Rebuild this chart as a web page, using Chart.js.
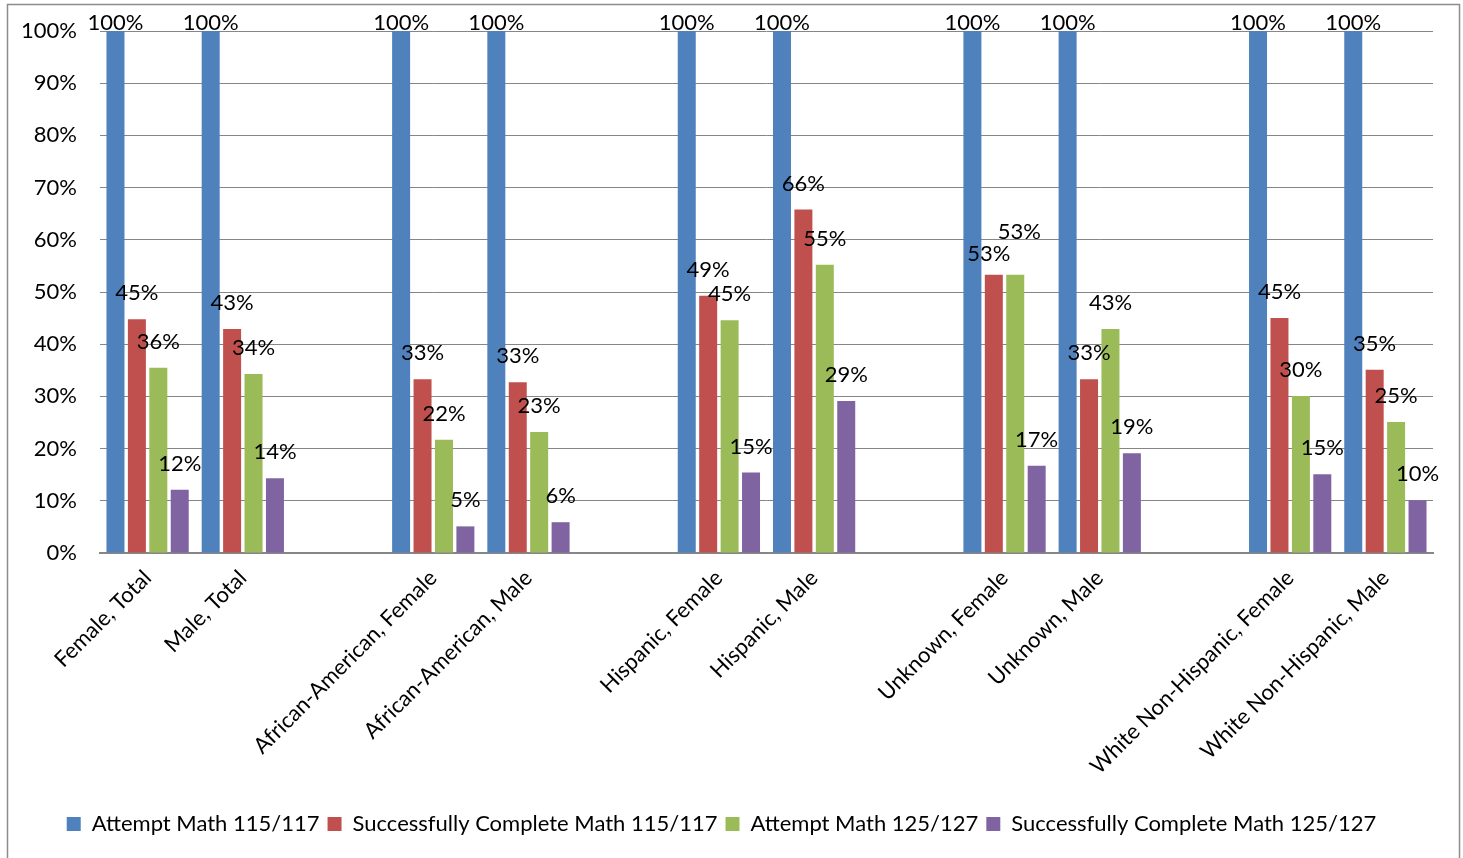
<!DOCTYPE html>
<html>
<head>
<meta charset="utf-8">
<script src="https://cdn.jsdelivr.net/npm/chart.js@4"></script>
<style>
  html, body { margin: 0; padding: 0; background: #fff; }
  #wrap { width: 1463px; height: 858px; position: relative; }
</style>
</head>
<body>
<div id="wrap"><canvas id="chart"></canvas></div>
<script>
// categories (empty strings are the spacer slots between groups)
const categories = [
  'Female, Total', 'Male, Total', '',
  'African-American, Female', 'African-American, Male', '',
  'Hispanic, Female', 'Hispanic, Male', '',
  'Unknown, Female', 'Unknown, Male', '',
  'White Non-Hispanic, Female', 'White Non-Hispanic, Male'
];

const seriesNames = [
  'Attempt Math 115/117',
  'Successfully Complete Math 115/117',
  'Attempt Math 125/127',
  'Successfully Complete Math 125/127'
];

// values in percent
const attempt115 =  [100, 100, null, 100, 100, null, 100, 100, null, 100, 100, null, 100, 100];
const complete115 = [44.8, 42.9, null, 33.3, 32.7, null, 49.3, 65.8, null, 53.3, 33.3, null, 45.0, 35.1];
const attempt125 =  [35.5, 34.3, null, 21.7, 23.2, null, 44.6, 55.2, null, 53.3, 42.9, null, 30.1, 25.1];
const complete125 = [12.1, 14.3, null, 5.1, 5.9, null, 15.4, 29.1, null, 16.7, 19.1, null, 15.1, 10.1];

const yTicks = [0, 10, 20, 30, 40, 50, 60, 70, 80, 90, 100];

const colors = ['#4F81BD', '#C0504D', '#9BBB59', '#8064A2'];
const FONT = 'Lato';
const FSIZE = 22;

// white background + grey frame like the Excel chart
const framePlugin = {
  id: 'frame',
  beforeDraw(chart) {
    const c = chart.ctx;
    c.save();
    c.fillStyle = '#fff';
    c.fillRect(0, 0, chart.width, chart.height);
    c.strokeStyle = '#8c8c8c';
    c.lineWidth = 1.5;
    c.strokeRect(7.5, 4.5, 1452, 880);
    c.restore();
  }
};

// percent labels above each bar, nudged apart when two collide
const labelPlugin = {
  id: 'barLabels',
  afterDatasetsDraw(chart) {
    const c = chart.ctx;
    c.save();
    c.font = FSIZE + 'px ' + FONT;
    c.fillStyle = '#000';
    c.textAlign = 'center';
    c.textBaseline = 'middle';
    const nData = chart.data.labels.length;
    for (let j = 0; j < nData; j++) {
      const pts = [];
      chart.data.datasets.forEach((ds, i) => {
        const v = ds.data[j];
        if (v === null || v === undefined) return;
        const bar = chart.getDatasetMeta(i).data[j];
        pts.push({
          text: Math.round(v) + '%',
          x: bar.x,
          y: Math.max(bar.y - 26, chart.chartArea.top - 8)
        });
      });
      for (let k = 1; k < pts.length; k++) {
        const a = pts[k - 1], b = pts[k];
        if (Math.abs(a.y - b.y) < 18 && a.y > chart.chartArea.top) {
          a.x -= 5; a.y += 5;
          b.x += 4; b.y -= 17;
        }
      }
      pts.forEach(p => c.fillText(p.text, p.x, p.y));
    }
    c.restore();
  }
};

const allSeries = [attempt115, complete115, attempt125, complete125];

new Chart(document.getElementById('chart'), {
  type: 'bar',
  data: {
    labels: categories,
    datasets: allSeries.map((d, i) => ({
      label: seriesNames[i],
      data: d,
      backgroundColor: colors[i],
      borderWidth: 0,
      categoryPercentage: 0.9,
      barPercentage: 0.84
    }))
  },
  options: {
    responsive: true,
    maintainAspectRatio: false,
    animation: false,
    layout: { padding: { left: 10, top: 31, right: 30, bottom: 13 } },
    scales: {
      x: {
        grid: { display: false },
        border: { display: true, color: '#868686', width: 2 },
        ticks: {
          color: '#000',
          font: { family: FONT, size: FSIZE },
          minRotation: 45,
          maxRotation: 45,
          autoSkip: false,
          padding: 4
        },
        afterFit(scale) { scale.height = 252; }
      },
      y: {
        min: 0,
        max: 100,
        afterBuildTicks(scale) { scale.ticks = yTicks.map(v => ({ value: v })); },
        grid: { color: '#868686', lineWidth: 1, drawTicks: false },
        border: { display: false },
        ticks: {
          color: '#000',
          font: { family: FONT, size: FSIZE },
          padding: 23,
          callback: v => v + '%'
        },
        afterFit(scale) {
          scale.width = 90;
          // tick padding would otherwise push the plot down
          scale.paddingTop = 10;
          scale.paddingBottom = 10;
        }
      }
    },
    plugins: {
      legend: {
        position: 'bottom',
        labels: {
          color: '#000',
          font: { family: FONT, size: FSIZE },
          boxWidth: 14,
          boxHeight: 14,
          padding: 8
        }
      },
      tooltip: { enabled: false }
    }
  },
  plugins: [framePlugin, labelPlugin]
});
</script>
</body>
</html>
